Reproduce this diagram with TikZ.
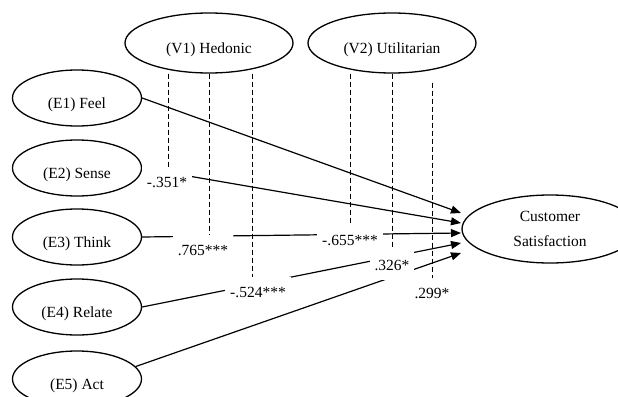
\documentclass[tikz,border=0pt]{standalone}
\usepackage{fontspec}
\setmainfont{Liberation Serif}
\usetikzlibrary{arrows.meta, shapes.geometric}

\begin{document}
\begin{tikzpicture}[
    x=1pt, y=-1pt, % pixel-like units, y pointing down
    >={Triangle[length=10pt, width=8pt]}, % Arrow tip for effects
    every node/.style={font=\fontsize{15.5}{25}\selectfont},
    latent/.style={ellipse, draw, line width=1.3pt, inner sep=0pt, text height=20pt, text depth=0pt}, % Base ellipse
    exo/.style={latent, minimum width=129pt, minimum height=56pt}, % Experiential dimensions
    moder/.style={latent, minimum width=168pt, minimum height=60pt}, % Moderators
    outcome/.style={ellipse, draw, line width=1.3pt, align=center, minimum width=176pt, minimum height=68pt},
    effect/.style={->, line width=1.2pt}, % Paths to satisfaction
    coef/.style={fill=white, inner xsep=5pt, inner ysep=10pt}, % Coefficient labels
    mod/.style={line width=0.9pt, dash pattern=on 5pt off 3pt} % Moderation lines
]

    % Frame of the picture
    \clip (0,0) rectangle (618,396);

    % Moderators
    \node[moder] (v1) at (209,43) {(V1) Hedonic};
    \node[moder] (v2) at (392,43) {(V2) Utilitarian};

    % Outcome
    \node[outcome] (cs) at (550,229) {Customer\\Satisfaction};

    % Experiential dimensions
    \foreach \n/\y/\lbl in {1/98/Feel, 2/168/Sense, 3/237/Think, 4/307/Relate, 5/379/Act}
        \node[exo] (e\n) at (77,\y) {(E\n) \lbl};

    % Paths to satisfaction
    \foreach \n/\from/\y in {1/east/213, 2/east/223, 3/east/233, 4/east/243, 5/12/253} {
        \coordinate (t\n) at (461,\y);
        \draw[effect] (e\n.\from) -- (t\n);
    }

    % Moderating coefficients
    \node[coef] (l11) at (167,182) {-.351*};
    \node[coef] (l12) at (203,250) {.765***};
    \node[coef] (l13) at (258,292) {-.524***};
    \node[coef] (l21) at (350,240) {-.655***};
    \node[coef] (l22) at (392,265) {.326*};
    \node[coef] (l23) at (432,293) {.299*};

    % Dashed moderation lines
    \foreach \x/\v/\l/\gap in {168/v1/l11/0, 209/v1/l12/0, 252/v1/l13/0, 350/v2/l21/0, 392/v2/l22/0, 432/v2/l23/9}
        \draw[mod] (\x,0 |- \v.south) ++(0,\gap) -- (\x,0 |- \l.north);

\end{tikzpicture}
\end{document}
